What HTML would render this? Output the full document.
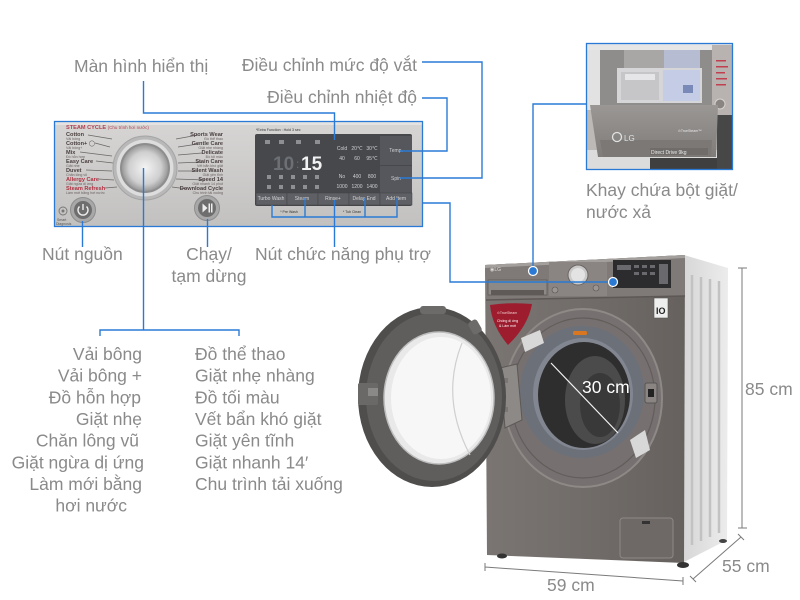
<!DOCTYPE html>
<html><head><meta charset="utf-8"><style>
html,body{margin:0;padding:0;background:#fff;}
svg{display:block;}
.l{font-family:"Liberation Sans","DejaVu Sans",sans-serif;font-size:17.5px;fill:#8a8a8a;}
.t{font-family:"Liberation Sans","DejaVu Sans",sans-serif;}
</style></head><body>
<svg width="800" height="600" viewBox="0 0 800 600" xmlns="http://www.w3.org/2000/svg">
<defs>
<linearGradient id="pg" x1="0" y1="0" x2="0" y2="1"><stop offset="0" stop-color="#d6d5d4"/><stop offset="1" stop-color="#c2c1c0"/></linearGradient>
<radialGradient id="kn" cx="0.5" cy="0.5" r="0.5"><stop offset="0" stop-color="#f4f4f4"/><stop offset="0.7" stop-color="#cfcfcf"/><stop offset="1" stop-color="#9a9a9a"/></radialGradient>
<linearGradient id="body" x1="0" y1="0" x2="1" y2="0"><stop offset="0" stop-color="#7a7572"/><stop offset="0.5" stop-color="#716c69"/><stop offset="1" stop-color="#66615e"/></linearGradient>
<linearGradient id="side" x1="0" y1="0" x2="1" y2="0"><stop offset="0" stop-color="#d7d7d7"/><stop offset="1" stop-color="#ececec"/></linearGradient>
<linearGradient id="df" x1="0" y1="0" x2="0" y2="1"><stop offset="0" stop-color="#9a9795"/><stop offset="1" stop-color="#7f7c7a"/></linearGradient>
<clipPath id="dc"><rect x="586" y="43" width="147" height="127"/></clipPath>
</defs>

<!-- ===== Control panel ===== -->
<rect x="55" y="122" width="367" height="104" fill="url(#pg)"/>
<rect x="55" y="122" width="367" height="3" fill="#e4e3e2"/>
<g class="t" font-size="5.6" fill="#4a4040" font-weight="bold">
<text x="66" y="129" fill="#b04050">STEAM CYCLE <tspan font-weight="normal" font-size="4.5">(Chu trình hơi nước)</tspan></text>
<text x="66" y="136">Cotton</text>
<text x="66" y="145">Cotton+ ◯</text>
<text x="66" y="154">Mix</text>
<text x="66" y="163">Easy Care</text>
<text x="66" y="172">Duvet</text>
<text x="66" y="181" fill="#b03040">Allergy Care</text>
<text x="66" y="190" fill="#b03040">Steam Refresh</text>
</g>
<g class="t" font-size="3.6" fill="#6a6060">
<text x="66" y="140">Vải bông</text><text x="66" y="149">Vải bông+</text><text x="66" y="158">Đồ hỗn hợp</text>
<text x="66" y="167">Giặt nhẹ</text><text x="66" y="176">Chăn lông vũ</text><text x="66" y="185">Giặt ngừa dị ứng</text><text x="66" y="194">Làm mới bằng hơi nước</text>
</g>
<g stroke="#6a6666" stroke-width="0.8">
<line x1="88" y1="135" x2="112" y2="139"/><line x1="95" y1="143" x2="110" y2="147"/><line x1="80" y1="152" x2="112" y2="156"/>
<line x1="96" y1="161" x2="113" y2="163"/><line x1="86" y1="170" x2="112" y2="171"/><line x1="98" y1="179" x2="114" y2="180"/><line x1="105" y1="188" x2="117" y2="187"/>
<line x1="176" y1="139" x2="198" y2="135"/><line x1="178" y1="147" x2="198" y2="144"/><line x1="178" y1="155" x2="202" y2="153"/>
<line x1="178" y1="163" x2="202" y2="162"/><line x1="178" y1="171" x2="198" y2="171"/><line x1="176" y1="179" x2="205" y2="180"/><line x1="172" y1="187" x2="187" y2="189"/>
</g>
<g class="t" font-size="5.6" fill="#4a4040" font-weight="bold" text-anchor="end">
<text x="223" y="136">Sports Wear</text><text x="223" y="145">Gentle Care</text><text x="223" y="154">Delicate</text>
<text x="223" y="163">Stain Care</text><text x="223" y="172">Silent Wash</text><text x="223" y="181">Speed 14</text><text x="223" y="190">Download Cycle</text>
</g>
<g class="t" font-size="3.6" fill="#6a6060" text-anchor="end">
<text x="223" y="140">Đồ thể thao</text><text x="223" y="149">Giặt nhẹ nhàng</text><text x="223" y="158">Đồ tối màu</text>
<text x="223" y="167">Vết bẩn khó giặt</text><text x="223" y="176">Giặt yên tĩnh</text><text x="223" y="185">Giặt nhanh 14 phút</text><text x="223" y="194">Chu trình tải xuống</text>
</g>
<circle cx="145" cy="168" r="32" fill="#b9b8b8" stroke="#a5a4a4"/>
<circle cx="145" cy="168" r="28.5" fill="#dedddd"/>
<circle cx="145" cy="168" r="25" fill="#8e8d8d"/>
<circle cx="145" cy="168" r="23" fill="url(#kn)"/>
<circle cx="83" cy="210" r="12.5" fill="#a9a8a8" stroke="#8e8d8d"/>
<circle cx="83" cy="210" r="9" fill="#6f6e6e"/>
<path d="M79.5 206.5 A5 5 0 1 0 86.5 206.5" fill="none" stroke="#eee" stroke-width="1.4"/>
<line x1="83" y1="204" x2="83" y2="210" stroke="#eee" stroke-width="1.4"/>
<circle cx="63" cy="211" r="4" fill="none" stroke="#777" stroke-width="0.9"/>
<circle cx="63" cy="211" r="1.5" fill="#777"/>
<text class="t" x="57" y="221" font-size="3.5" fill="#555">Smart</text>
<text class="t" x="56" y="225" font-size="3.5" fill="#555">Diagnosis</text>
<circle cx="207" cy="208" r="12.5" fill="#a9a8a8" stroke="#8e8d8d"/>
<circle cx="207" cy="208" r="9" fill="#6f6e6e"/>
<path d="M202.5 203.5 L207.5 208 L202.5 212.5 Z" fill="#eee"/>
<rect x="208.5" y="203.5" width="1.5" height="9" fill="#eee"/><rect x="211" y="203.5" width="1.5" height="9" fill="#eee"/>
<text class="t" x="256" y="131" font-size="3.6" fill="#333">*Extra Function : Hold 3 sec</text>
<rect x="255" y="134" width="157" height="72" rx="2" fill="#46484c"/>
<rect x="380" y="136" width="32" height="29" fill="#55575c"/>
<rect x="380" y="166" width="32" height="27" fill="#55575c"/>
<g fill="#8d8f93">
<rect x="265" y="140" width="5" height="4"/><rect x="279" y="140" width="5" height="4"/><rect x="296" y="140" width="5" height="4"/><rect x="315" y="140" width="5" height="4"/>
<rect x="267" y="175" width="4" height="4"/><rect x="279" y="175" width="4" height="4"/><rect x="291" y="175" width="4" height="4"/><rect x="303" y="175" width="4" height="4"/><rect x="315" y="175" width="4" height="4"/>
<rect x="267" y="185" width="4" height="4"/><rect x="279" y="185" width="4" height="4"/><rect x="291" y="185" width="4" height="4"/><rect x="303" y="185" width="4" height="4"/><rect x="315" y="185" width="4" height="4"/>
</g>
<text class="t" x="273" y="170" font-size="19" fill="#6c6f74" font-weight="bold">10</text>
<text class="t" x="296" y="168" font-size="12" fill="#6c6f74">:</text>
<text class="t" x="301" y="170" font-size="19" fill="#f2f2f2" font-weight="bold">15</text>
<g class="t" font-size="5" fill="#cfd0d2" text-anchor="middle">
<text x="342" y="150">Cold</text><text x="357" y="150">20℃</text><text x="372" y="150">30℃</text>
<text x="342" y="160">40</text><text x="357" y="160">60</text><text x="372" y="160">95℃</text>
<text x="342" y="178">No</text><text x="357" y="178">400</text><text x="372" y="178">800</text>
<text x="342" y="188">1000</text><text x="357" y="188">1200</text><text x="372" y="188">1400</text>
<text x="396" y="152">Temp.</text><text x="396" y="180">Spin</text>
</g>
<g fill="#5e6065" stroke="#3e4044" stroke-width="0.5">
<rect x="256" y="193" width="31" height="12"/><rect x="287" y="193" width="31" height="12"/><rect x="318" y="193" width="31" height="12"/><rect x="349" y="193" width="31" height="12"/><rect x="380" y="193" width="32" height="12"/>
</g>
<g class="t" font-size="5" fill="#d4d5d7" text-anchor="middle">
<text x="271" y="200">Turbo Wash</text><text x="302" y="200">Steam</text><text x="333" y="200">Rinse+</text><text x="364" y="200">Delay End</text><text x="396" y="200">Add Item</text>
</g>
<g class="t" font-size="3.5" fill="#333" text-anchor="middle">
<text x="289" y="213">* Pre Wash</text><text x="352" y="213">* Tub Clean</text>
</g>
<rect x="54.5" y="121.5" width="368" height="105" fill="none" stroke="#2a7ad5" stroke-width="1.3"/>

<!-- ===== Drawer photo ===== -->
<g clip-path="url(#dc)">
<rect x="586" y="43" width="147" height="127" fill="#bcb9b7"/>
<rect x="586" y="43" width="147" height="7" fill="#e6e6e6"/>
<rect x="586" y="50" width="14" height="60" fill="#e2e2e2"/>
<rect x="600" y="50" width="112" height="55" fill="#8f8d8b"/>
<rect x="712" y="45" width="21" height="78" fill="#b8b2b0"/>
<g fill="#c04050"><rect x="716" y="60" width="10" height="1.5"/><rect x="716" y="66" width="12" height="1.5"/><rect x="716" y="72" width="9" height="1.5"/><rect x="716" y="78" width="11" height="1.5"/><rect x="716" y="84" width="10" height="1.5"/></g>
<circle cx="720" cy="104" r="5" fill="#8a8483" stroke="#d8d4d2"/>
<rect x="624" y="50" width="76" height="20" fill="#a9a7a6"/>
<rect x="664" y="50" width="36" height="25" fill="#b9c2dc" opacity="0.8"/>
<rect x="617" y="68" width="85" height="35" fill="#d6d6d9"/>
<rect x="621" y="72" width="38" height="28" fill="#c6c6c9"/>
<path d="M625 74 h30 v6 h-30z" fill="#e6e6e8"/>
<rect x="663" y="70" width="37" height="31" fill="#c5cde6"/>
<rect x="683" y="85" width="10" height="8" fill="#7a8ab8"/>
<rect x="717" y="115" width="16" height="55" fill="#474747"/>
<rect x="586" y="150" width="131" height="20" fill="#dcdcdc"/>
<rect x="650" y="158" width="67" height="12" fill="#3f3f3f"/>
<path d="M590 105 L718 105 L716 157 L598 157 Z" fill="url(#df)"/>
<path d="M600 140 L712 140 L711 157 L603 157 Z" fill="#7b7876"/>
<circle cx="617" cy="137" r="4.5" fill="none" stroke="#e2e2e2" stroke-width="1.3"/>
<text class="t" x="624" y="141" font-size="8" fill="#e2e2e2">LG</text>
<text class="t" x="678" y="132" font-size="3.5" fill="#eaeaea">⊙TrueSteam™</text>
<rect x="650" y="148" width="58" height="7" fill="#6f6c6a"/>
<text class="t" x="651" y="154" font-size="5" fill="#ececec">Direct Drive 9kg</text>
</g>
<rect x="586.5" y="43.5" width="146" height="126" fill="none" stroke="#2a7ad5" stroke-width="1.3"/>

<!-- ===== Washing machine ===== -->
<path d="M684 255 L728 268 L727 540 L684 562 Z" fill="url(#side)"/>
<g stroke="#c2c2c2" stroke-width="2.5" fill="none">
<line x1="692" y1="275" x2="692" y2="545"/><line x1="701" y1="277" x2="701" y2="541"/><line x1="710" y1="279" x2="710" y2="537"/><line x1="719" y1="281" x2="719" y2="533"/>
</g>
<path d="M485 265 L685 255 L684 563 L487 555 Z" fill="url(#body)"/>
<path d="M485 265 L685 255 L685 296 L486 300 Z" fill="#7f7a77"/>
<path d="M485 265 L685 255 L685 258 L485 268 Z" fill="#a39f9c"/>
<line x1="486" y1="300" x2="685" y2="296" stroke="#5d5856" stroke-width="1.5"/>
<rect x="488" y="280" width="59" height="15" fill="#8d8986" stroke="#5f5a58" stroke-width="0.8"/>
<rect x="491" y="290" width="53" height="5" fill="#5f5a58"/>
<text class="t" x="490" y="271" font-size="5" fill="#dcdcdc">◉LG</text>
<rect x="549" y="262" width="58" height="34" fill="#8a8582"/>
<circle cx="578" cy="275" r="10" fill="#c9c9c9" stroke="#6a6563"/>
<circle cx="578" cy="275" r="7" fill="#e3e3e3"/>
<circle cx="555" cy="290" r="3" fill="#9a9592" stroke="#5a5553" stroke-width="0.6"/>
<circle cx="596" cy="288" r="3" fill="#9a9592" stroke="#5a5553" stroke-width="0.6"/>
<rect x="613" y="260" width="58" height="28" fill="#2c2c2e"/>
<g fill="#6a6a6e"><rect x="617" y="265" width="14" height="5"/><rect x="634" y="265" width="5" height="3"/><rect x="642" y="265" width="5" height="3"/><rect x="650" y="265" width="5" height="3"/><rect x="634" y="272" width="5" height="3"/><rect x="642" y="272" width="5" height="3"/><rect x="650" y="272" width="5" height="3"/><rect x="659" y="264" width="9" height="20"/></g>
<path d="M490 305 Q511 302 532 304 Q528 326 508 345 Q492 326 490 305 Z" fill="#9d1c2d"/>
<text class="t" x="497" y="314" font-size="3.5" fill="#f0d0d0">⊙TrueSteam</text>
<text class="t" x="497" y="322" font-size="3.5" fill="#fff">Chống dị ứng</text>
<text class="t" x="499" y="327" font-size="3.5" fill="#fff">&amp; Làm mới</text>
<rect x="654" y="298" width="14" height="20" fill="#eee" stroke="#555" stroke-width="0.6"/>
<text class="t" x="656" y="314" font-size="9" fill="#222" font-weight="bold">IO</text>
<ellipse cx="583" cy="398" rx="79" ry="89" fill="#767170" stroke="#8e8986" stroke-width="2"/>
<ellipse cx="583" cy="398" rx="72" ry="80" fill="none" stroke="#625d5b" stroke-width="1.2"/>
<ellipse cx="582" cy="392" rx="62" ry="66" fill="#6b7079"/>
<ellipse cx="583" cy="394" rx="50" ry="56" fill="#818690"/>
<ellipse cx="584" cy="395" rx="46" ry="53" fill="#2f2e2e"/>
<ellipse cx="595" cy="400" rx="30" ry="44" fill="#4c4b4b"/>
<ellipse cx="600" cy="405" rx="20" ry="32" fill="#3a3939"/>
<rect x="573" y="331" width="14" height="4" rx="1.5" fill="#d8771f"/>
<path d="M521 338 L540 330 L544 343 L525 352 Z" fill="#d8d8d8"/>
<path d="M630 440 L645 430 L650 450 L636 458 Z" fill="#d8d8d8"/>
<rect x="645" y="383" width="12" height="20" rx="2" fill="#8a8582" stroke="#555"/>
<rect x="648" y="389" width="6" height="8" fill="#222"/>
<rect x="620" y="518" width="53" height="40" rx="3" fill="#6e6966" stroke="#8e8986"/>
<rect x="642" y="521" width="8" height="3" fill="#333"/>
<ellipse cx="502" cy="556" rx="5" ry="2.5" fill="#333"/>
<ellipse cx="683" cy="565" rx="6" ry="3" fill="#333"/>
<ellipse cx="723" cy="541" rx="4" ry="2" fill="#444"/>
<path d="M500 368 L517 364 L522 420 L505 428 Z" fill="#8d8987" stroke="#5c5856"/>
<rect x="492" y="378" width="16" height="5" fill="#7a7674"/><rect x="492" y="407" width="16" height="5" fill="#7a7674"/>
<ellipse cx="432" cy="397" rx="74" ry="90" fill="#4f4e4d"/>
<ellipse cx="434" cy="397" rx="68" ry="84" fill="#5f5e5d"/>
<rect x="420" y="306" width="26" height="8" rx="3" fill="#6c6b6a"/>
<rect x="470" y="320" width="10" height="14" rx="3" transform="rotate(-30 475 327)" fill="#6c6b6a"/>
<ellipse cx="439" cy="398" rx="55" ry="66" fill="#e9e9e9" stroke="#bdbdbd" stroke-width="1.5"/>
<ellipse cx="441" cy="398" rx="50" ry="61" fill="#f7f7f7"/>
<path d="M462 343 Q440 398 470 455" fill="none" stroke="#cfcfcf" stroke-width="1.2"/>
<rect x="358" y="383" width="20" height="22" rx="2" fill="#6a6968"/>
<rect x="368" y="388" width="10" height="8" fill="#8a8988"/>
<line x1="551" y1="363" x2="618" y2="433" stroke="#f2f2f2" stroke-width="1.2"/>
<text class="t" x="582" y="393" font-size="17.5" fill="#ffffff">30 cm</text>

<!-- ===== Dimension lines ===== -->
<g stroke="#7a7a7a" stroke-width="1" fill="none">
<path d="M742 268 V528 M738 268 H747 M738 528 H747"/>
<path d="M693 579 L741 537 M690 576 L696 582 M738 534 L744 540"/>
<path d="M485 567 L683 581 M485 563 V571 M683 577 V585"/>
</g>

<!-- ===== Connectors ===== -->
<g stroke="#2a7ad5" stroke-width="1.4" fill="none">
<path d="M143.5 81 V113 H334.5 V140"/>
<path d="M422 62 H482 V178 H400"/>
<path d="M422 98 H447 V151 H400"/>
<path d="M422 203 H450 V282 H613"/>
<path d="M586 104 H533 V272"/>
<path d="M82.5 221 V247"/>
<path d="M143.5 168 V330 M100 336 V330 H239 V336"/>
<path d="M207.5 219 V247"/>
<path d="M334.5 200 V247"/>
<path d="M272 205 V217 H397 V198 M305 198 V217 M365 198 V217"/>
</g>
<circle cx="533" cy="271" r="4.5" fill="#2a7ad5" stroke="#fff" stroke-width="1.2"/>
<circle cx="613" cy="282" r="4.5" fill="#2a7ad5" stroke="#fff" stroke-width="1.2"/>

<!-- ===== Labels ===== -->
<text class="l" x="74" y="72">Màn hình hiển thị</text>
<text class="l" x="417" y="71" text-anchor="end">Điều chỉnh mức độ vắt</text>
<text class="l" x="417" y="103" text-anchor="end">Điều chỉnh nhiệt độ</text>
<text class="l" x="586" y="196">Khay chứa bột giặt/</text>
<text class="l" x="586" y="218">nước xả</text>
<text class="l" x="42" y="260">Nút nguồn</text>
<text class="l" x="209" y="260" text-anchor="middle">Chạy/</text>
<text class="l" x="209" y="282" text-anchor="middle">tạm dừng</text>
<text class="l" x="255" y="260">Nút chức năng phụ trợ</text>

<g class="l" text-anchor="end">
<text x="142" y="360">Vải bông</text>
<text x="142" y="381.7">Vải bông +</text>
<text x="141" y="403.3">Đồ hỗn hợp</text>
<text x="142" y="425">Giặt nhẹ</text>
<text x="139" y="446.7">Chăn lông vũ</text>
<text x="144" y="468.3">Giặt ngừa dị ứng</text>
<text x="142" y="490">Làm mới bằng</text>
<text x="127" y="511.7">hơi nước</text>
</g>
<g class="l">
<text x="195" y="360">Đồ thể thao</text>
<text x="195" y="381.7">Giặt nhẹ nhàng</text>
<text x="195" y="403.3">Đồ tối màu</text>
<text x="195" y="425">Vết bẩn khó giặt</text>
<text x="195" y="446.7">Giặt yên tĩnh</text>
<text x="195" y="468.3">Giặt nhanh 14′</text>
<text x="195" y="490">Chu trình tải xuống</text>
</g>
<text class="l" x="745" y="395">85 cm</text>
<text class="l" x="722" y="572">55 cm</text>
<text class="l" x="547" y="591">59 cm</text>
</svg>
</body></html>
